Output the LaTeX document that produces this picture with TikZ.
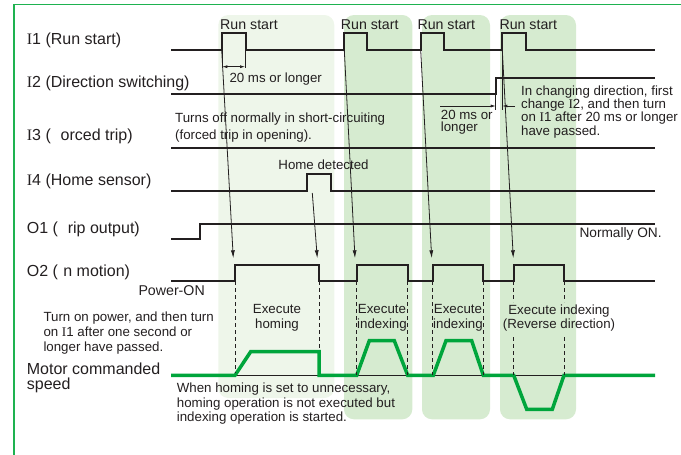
\documentclass[tikz,border=0pt]{standalone}
\usepackage{fontspec}
\setmainfont{Liberation Sans}
\newfontfamily\serifI{Liberation Serif}
\usetikzlibrary{arrows.meta,positioning}
\definecolor{gf}{RGB}{30,178,80}
\definecolor{gs}{RGB}{0,165,60}
\definecolor{lz}{RGB}{238,246,234}
\definecolor{dz}{RGB}{214,235,208}
\definecolor{tx}{RGB}{35,31,32}
\newcommand{\inI}{{\serifI I}}

\begin{document}
\begin{tikzpicture}[x=1pt, y=-1pt,
  sig/.style={line width=2.2pt, color=tx},
  arrow/.style={-{Latex[length=8pt,width=4pt]}, line width=0.8pt, color=tx},
  dimarr/.style={-{Latex[length=5pt,width=3pt]}, line width=0.7pt, color=tx},
  dimln/.style={line width=0.7pt, color=tx},
  dashln/.style={dash pattern=on 4pt off 3pt, line width=0.8pt, color=tx},
  zone/.style={rounded corners=10pt},
  lbl/.style={anchor=west, inner sep=0pt, text=tx, align=left, font=\fontsize{16}{15}\selectfont},
  note/.style={anchor=west, inner sep=0pt, text=tx, align=left, font=\fontsize{13.3}{15}\selectfont},
  run/.style={anchor=west, inner sep=0pt, text=tx, font=\fontsize{14.2}{15}\selectfont}
]
\useasboundingbox (0,0) rectangle (681,455);
% Shaded zones (homing, indexing, indexing, reverse indexing)
\fill[lz, zone] (218.3,15) rectangle (334.3,398);
\fill[dz, zone] (344,15) rectangle (412.3,419.3);
\fill[dz, zone] (422,15) rectangle (490,419.3);
\fill[dz, zone] (500,15) rectangle (576,419.3);
% Frame (open on the right and at the bottom)
\draw[gf, line width=1.4pt] (14,455) -- (14,4.7) -- (681,4.7);

% Signal names
\node[lbl] (nI1) at (26.7,40) {\inI1 (Run start)};
\node[lbl] (nI2) at (26.7,83.3) {\inI2 (Direction switching)};
\node[lbl] (nI3) at (26.7,136) {\inI3 (\phantom{F}orced trip)};
\node[lbl] (nI4) at (26.7,181.7) {\inI4 (Home sensor)};
\node[lbl] (nO1) at (26.7,229) {O1 (\phantom{T}rip output)};
\node[lbl] (nO2) at (26.7,272.7) {O2 (\phantom{\inI}n motion)};
\node[lbl] (nMs) at (26.7,378.2) {Motor commanded\\speed};

% Waveforms
\draw[sig] (171,50) -- (221.7,50) -- (221.7,33.3) -- (245.7,33.3) -- (245.7,50)
  -- (344.3,50) -- (344.3,33.3) -- (366.7,33.3) -- (366.7,50)
  -- (420.7,50) -- (420.7,33.3) -- (444.3,33.3) -- (444.3,50)
  -- (502.3,50) -- (502.3,33.3) -- (525.7,33.3) -- (525.7,50) -- (655,50);
\draw[sig] (171,94.3) -- (495.7,94.3) -- (495.7,77.7) -- (655,77.7);
\draw[sig] (171,147.7) -- (655,147.7);
\draw[sig] (171,190.7) -- (307.3,190.7) -- (307.3,174.3) -- (330.7,174.3) -- (330.7,190.7) -- (655,190.7);
\draw[sig] (171,239.3) -- (200,239.3) -- (200,224) -- (655,224);
\draw[sig] (171,281) -- (235.3,281) -- (235.3,265) -- (319,265) -- (319,281)
  -- (356.7,281) -- (356.7,265) -- (407.7,265) -- (407.7,281)
  -- (432.7,281) -- (432.7,265) -- (483.3,265) -- (483.3,281)
  -- (513.7,281) -- (513.7,265) -- (564,265) -- (564,281) -- (655,281);
% Motor commanded speed
\draw[tx, line width=1pt] (171,375.3) -- (655,375.3);
\draw[gs, line width=3.5pt] (171,375.3) -- (235,375.3) -- (250.7,351.7) -- (319,351.7) -- (319,375.3)
  -- (356.7,375.3) -- (369.3,340.7) -- (394.3,340.7) -- (407.7,375.3)
  -- (433.3,375.3) -- (446,340.7) -- (471.7,340.7) -- (483.3,375.3)
  -- (513.7,375.3) -- (526.7,409.3) -- (552.3,409.3) -- (564,375.3) -- (655,375.3);

% Run start labels
\node[run] (rs1) at (220,25) {Run start};
\node[run] (rs2) at (340.7,25) {Run start};
\node[run] (rs3) at (417.3,25) {Run start};
\node[run] (rs4) at (499.3,25) {Run start};

% Arrow ends
\coordinate (a1) at (221.7,50);  \coordinate (b1) at (233.3,258.3);
\coordinate (a2) at (344.3,50);  \coordinate (b2) at (355,258.3);
\coordinate (a3) at (420.7,50);  \coordinate (b3) at (431.7,258.3);
\coordinate (a4) at (502.3,50);  \coordinate (b4) at (513.3,258.3);
\coordinate (a5) at (312.3,193); \coordinate (b5) at (317.3,258.3);
\draw[arrow] (a1) -- (b1);
\draw[arrow] (a2) -- (b2);
\draw[arrow] (a3) -- (b3);
\draw[arrow] (a4) -- (b4);
\draw[arrow] (a5) -- (b5);

% 20 ms dimension under the first pulse
\draw[dimln] (222.3,50) -- (222.3,68);
\draw[dimln] (245,50) -- (245,68);
\draw[dimarr, {Latex[length=5pt,width=3pt]}-{Latex[length=5pt,width=3pt]}] (222.3,66.7) -- (245,66.7);
\node[note] (t20a) at (229.3,79) {20 ms or longer};
% 20 ms dimension between I2 and I1
\coordinate (d1) at (495.7,106); \coordinate (d2) at (502.3,106);
\draw[dimln] (495.7,94.3) -- (495.7,110);
\draw[dimln] (502.3,50) -- (502.3,110);
\draw[dimarr] (440,106) -- (d1);
\draw[dimarr] (515,106) -- (d2);
\node[note, font=\fontsize{13.3}{12.3}\selectfont] (t20b) at (440.7,122.2) {20 ms or\\longer};
\node[note, font=\fontsize{13.3}{13.1}\selectfont] (tdir) at (521,112) {In changing direction, first\\change \inI2, and then turn\\on \inI1 after 20 ms or longer\\have passed.};

% Other annotations
\node[note, font=\fontsize{13.3}{16.5}\selectfont] (toff) at (175,127.7) {Turns off normally in short-circuiting\\(forced trip in opening).};
\node[note, anchor=center] (thome) at (323.5,164.3) {Home detected};
\node[run, font=\fontsize{13.7}{15}\selectfont] (tnon) at (579.3,234.3) {Normally ON.};
\node[run] (tpow) at (138.3,291) {Power-ON};
\node[note] (tturn) at (43.3,333.3) {Turn on power, and then turn\\on \inI1 after one second or\\longer have passed.};
\node[note, font=\fontsize{13.3}{14.7}\selectfont] (twhen) at (176.7,403.7) {When homing is set to unnecessary,\\homing operation is not executed but\\indexing operation is started.};

% Dashed marks of O2 edges
\draw[dashln] (235.3,281) -- (235.3,373);
\draw[dashln] (319,281) -- (319,350);
\draw[dashln] (356.7,281) -- (356.7,375);
\draw[dashln] (407.7,281) -- (407.7,375);
\draw[dashln] (432.7,281) -- (432.7,375);
\draw[dashln] (483.3,281) -- (483.3,375);
\draw[dashln] (513.7,281) -- (513.7,302);
\draw[dashln] (564,281) -- (564,302);
\draw[dashln] (513.7,337) -- (513.7,375);
\draw[dashln] (564,337) -- (564,375);
\node[note, anchor=center, align=center, font=\fontsize{13.3}{14.3}\selectfont] (exh) at (277,317.8) {Execute\\homing};
\node[note, anchor=center, align=center, font=\fontsize{13.3}{14.3}\selectfont] (exi1) at (382,317.8) {Execute\\indexing};
\node[note, anchor=center, align=center, font=\fontsize{13.3}{14.3}\selectfont] (exi2) at (458,317.8) {Execute\\indexing};
\node[note, anchor=center, align=center, font=\fontsize{13.3}{14.3}\selectfont] (exr) at (559,317.8) {Execute indexing\\(Reverse direction)};
\end{tikzpicture}
\end{document}
